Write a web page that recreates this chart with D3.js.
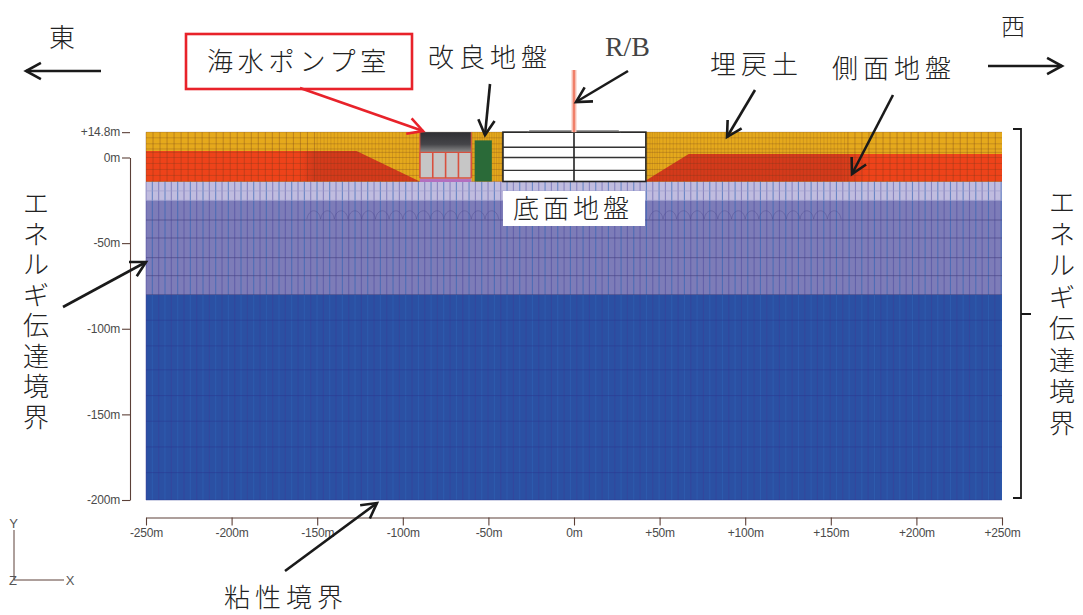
<!DOCTYPE html>
<html><head><meta charset="utf-8">
<style>html,body{margin:0;background:#fff}svg{display:block}</style>
<script src="https://cdn.jsdelivr.net/npm/d3@7/dist/d3.min.js"></script></head><body>
<svg id="c" width="1083" height="615"></svg>
<script>
const xTicks=[-250,-200,-150,-100,-50,0,50,100,150,200,250];
const xTickLabels=["-250m","-200m","-150m","-100m","-50m","0m","+50m","+100m","+150m","+200m","+250m"];
const yTicks=[14.8,0,-50,-100,-150,-200];
const yTickLabels=["+14.8m","0m","-50m","-100m","-150m","-200m"];
const layerNames=["backfill","side","upper","middle","lower"];
const layerTop=[14.8,3,-14,-25,-80];
const layerBottom=[3,-14,-25,-80,-200];
const layerColors=["#e5a91c","#ee431a","#c0bcdf","#7d7cb8","#2b50a3"];
const slopeLeft=[[-250,3.8],[-127,3.8],[-90,-14],[-250,-14]];
const slopeRight=[[250,2],[67,2],[41,-14],[250,-14]];
const rbX=[-41.5,0,42];
const rbY=[14.8,6,0,-7.5,-14];
const pumpColumns=[-90,-82.5,-75,-67.5,-60];
const upperMeshZones=[[-250,-150,4.1],[-150,-90,2],[-90,50,1.4],[50,160,2],[160,250.1,4.1]];
const lowerMeshZones=[[-250,250.1,3.7]];
const upperRows=[14.8,11.5,8,5,3,0,-3.5,-7,-10.5,-14];
const lowerRows=[-19.5,-25,-36.5,-47,-58.5,-69,-80,-95,-110,-124,-139,-154,-169,-184,-200];
const hoops=[-152,-144,-136,-128,-120,-112,-104,-96,-88,-80,-72,-64,-56,-48,48,56,64,72,80,88,96,104,112,120,128,136,144,152];

const x=d3.scaleLinear().domain([-250,250]).range([146,1002]);
const y=d3.scaleLinear().domain([0,-200]).range([157.5,500]);
const svg=d3.select("#c");
const serif="'Liberation Serif','Noto Sans CJK JP',serif";
const sans="'Liberation Sans',Arial,sans-serif";
const defs=svg.append("defs");
const g=svg.append("g");
const ln=d3.line().x(d=>x(d[0])).y(d=>y(d[1]));
layerNames.forEach((n,i)=>g.append("rect").attr("x",x(-250)).attr("width",x(250)-x(-250))
  .attr("y",y(layerTop[i])).attr("height",y(layerBottom[i])-y(layerTop[i])).attr("fill",layerColors[i]));
g.append("rect").attr("x",x(-250)).attr("width",x(250)-x(-250)).attr("y",y(14.8)).attr("height",y(-14)-y(14.8)).attr("fill",layerColors[0]);
const sideGrad=defs.append("linearGradient").attr("id","sideL");
sideGrad.append("stop").attr("offset",0.56).attr("stop-color",layerColors[1]);
sideGrad.append("stop").attr("offset",0.61).attr("stop-color","#d43a1b");
const sideGradR=defs.append("linearGradient").attr("id","sideR").attr("x1",1).attr("x2",0);
sideGradR.append("stop").attr("offset",0.38).attr("stop-color",layerColors[1]);
sideGradR.append("stop").attr("offset",0.45).attr("stop-color","#d43a1b");
g.append("path").attr("d",ln(slopeLeft)+"Z").attr("fill","url(#sideL)");
g.append("path").attr("d",ln(slopeRight)+"Z").attr("fill","url(#sideR)");
const mesh=svg.append("g").attr("fill","none");
upperMeshZones.forEach(z=>d3.range(z[0],z[1],z[2]).forEach(v=>{
  mesh.append("line").attr("x1",x(v)).attr("x2",x(v)).attr("y1",y(14.8)).attr("y2",y(-14))
   .attr("stroke","#6b3a1e").attr("stroke-opacity",z[2]<3?0.22:0.42).attr("stroke-width",0.8);
}));
lowerMeshZones.forEach(z=>d3.range(z[0],z[1],z[2]).forEach((v,i)=>{
  mesh.append("line").attr("x1",x(v)).attr("x2",x(v)).attr("y1",y(-14)).attr("y2",y(-200))
   .attr("stroke",i%2?"#2f62b4":"#3f3c96").attr("stroke-opacity",i%2?0.6:0.42).attr("stroke-width",1.1);
}));
upperRows.forEach(v=>mesh.append("line").attr("x1",x(-250)).attr("x2",x(250)).attr("y1",y(v)).attr("y2",y(v))
  .attr("stroke","#6b3a1e").attr("stroke-opacity",0.32).attr("stroke-width",0.8));
lowerRows.forEach(v=>mesh.append("line").attr("x1",x(-250)).attr("x2",x(250)).attr("y1",y(v)).attr("y2",y(v))
  .attr("stroke",v<-80?"#2a3590":(v<-25?"#45407f":"#9d9ccf")).attr("stroke-opacity",v<-80?0.45:0.6).attr("stroke-width",1));
hoops.forEach(h=>{
  mesh.append("path").attr("d",`M${x(h-4)},${y(-36)}C${x(h-3)},${y(-29.5)} ${x(h+3)},${y(-29.5)} ${x(h+4)},${y(-36)}`)
   .attr("stroke","#4d4a8f").attr("stroke-opacity",.5).attr("stroke-width",.8);
});
const s=svg.append("g");
s.append("rect").attr("x",x(-90)).attr("y",y(14.8)).attr("width",x(-60)-x(-90)).attr("height",y(-14)-y(14.8)).attr("fill","#c6c6c6");
const grad=defs.append("linearGradient").attr("id","pg").attr("x1",0).attr("x2",0).attr("y1",0).attr("y2",1);
grad.append("stop").attr("offset",0).attr("stop-color","#2f2f33");
grad.append("stop").attr("offset",.6).attr("stop-color","#454549");
grad.append("stop").attr("offset",1).attr("stop-color","#8e8e8e");
s.append("rect").attr("x",x(-90)).attr("y",y(14.8)).attr("width",x(-60)-x(-90)).attr("height",y(3)-y(14.8)).attr("fill","url(#pg)");
pumpColumns.forEach(v=>s.append("line").attr("x1",x(v)).attr("x2",x(v)).attr("y1",y(3)).attr("y2",y(-12)).attr("stroke","#d8503e").attr("stroke-width",1.6));
s.append("line").attr("x1",x(-90)).attr("x2",x(-60)).attr("y1",y(3)).attr("y2",y(3)).attr("stroke","#d8503e").attr("stroke-width",1.4);
s.append("line").attr("x1",x(-90)).attr("x2",x(-60)).attr("y1",y(-12)).attr("y2",y(-12)).attr("stroke","#d8503e").attr("stroke-width",1.6);
s.append("rect").attr("x",x(-90)).attr("y",y(-12.6)).attr("width",x(-60)-x(-90)).attr("height",y(-14.3)-y(-12.6)).attr("fill","#b36fc0");
s.append("path").attr("d",ln([[-90,14.8],[-90,3]])).attr("stroke","#d8503e").attr("stroke-width",1).attr("fill","none");
s.append("path").attr("d",ln([[-60,14.8],[-60,3]])).attr("stroke","#d8503e").attr("stroke-width",1).attr("fill","none");
s.append("rect").attr("x",x(-58)).attr("y",y(10)).attr("width",x(-48)-x(-58)).attr("height",y(-14)-y(10)).attr("fill","#2a6a38");
const rb=svg.append("g");
rb.append("rect").attr("x",x(rbX[0])).attr("y",y(rbY[0])).attr("width",x(rbX[2])-x(rbX[0])).attr("height",y(rbY[4])-y(rbY[0])).attr("fill","#fff").attr("stroke","#222").attr("stroke-width",1.6);
rbY.slice(1,4).forEach(v=>rb.append("line").attr("x1",x(rbX[0])).attr("x2",x(rbX[2])).attr("y1",y(v)).attr("y2",y(v)).attr("stroke","#333").attr("stroke-width",1.4));
rb.append("line").attr("x1",x(0)).attr("x2",x(0)).attr("y1",y(14.8)).attr("y2",y(-14)).attr("stroke","#222").attr("stroke-width",1.6);
rb.append("path").attr("d",ln([[-27,14.8],[-26,15.6],[26,15.6],[27,14.8]])).attr("fill","none").attr("stroke","#777").attr("stroke-width",1);
svg.append("line").attr("x1",x(0)).attr("x2",x(0)).attr("y1",70).attr("y2",y(14.8)).attr("stroke","#f7c4b8").attr("stroke-width",5);
svg.append("line").attr("x1",x(0)).attr("x2",x(0)).attr("y1",70).attr("y2",y(14.8)).attr("stroke","#f0806a").attr("stroke-width",2.2);
function styleAxis(a){a.selectAll("path,line").attr("stroke","#5c4038").attr("stroke-width",1.1);
  a.selectAll("text").attr("font-family",sans).attr("font-size",12).attr("fill","#4a4a4a");}
const yAxis=svg.append("g").attr("transform","translate(130,0)")
 .call(d3.axisLeft(y).tickValues(yTicks).tickFormat((d,i)=>yTickLabels[i]).tickSize(8).tickSizeOuter(0)).call(styleAxis);
yAxis.selectAll("text").attr("x",-10).attr("letter-spacing",-.2);
const xAxis=svg.append("g").attr("transform","translate(0,517.5)")
 .call(d3.axisBottom(x).tickValues(xTicks).tickFormat((d,i)=>xTickLabels[i]).tickSize(8).tickSizeOuter(0)).call(styleAxis);
xAxis.selectAll("text").attr("y",11).attr("letter-spacing",-.2);
const tri=svg.append("g").attr("stroke","#5c4038").attr("fill","none");
tri.append("line").attr("x1",14).attr("x2",14).attr("y1",530).attr("y2",580);
tri.append("line").attr("x1",14).attr("x2",64).attr("y1",580).attr("y2",580);
[["Y",13.5,528],["Z",13,585],["X",70,585]].forEach(t=>svg.append("text").text(t[0]).attr("x",t[1]).attr("y",t[2]).attr("text-anchor","middle").attr("font-family",sans).attr("font-size",13).attr("fill","#555"));
function label(t,px,py,size,sp){svg.append("text").text(t).attr("x",px).attr("y",py).attr("font-family",serif).attr("font-size",size).attr("letter-spacing",sp||0).attr("fill","#222").attr("font-weight",300);}
label("東",49,47,26);
label("西",1001,35,24);
label("改良地盤",428,67,26,5);
svg.append("text").text("R/B").attr("x",605).attr("y",56).attr("font-family","'Liberation Serif',serif").attr("font-size",27).attr("fill","#444").attr("textLength",45).attr("lengthAdjust","spacingAndGlyphs");
label("埋戻土",710,74,26,5);
label("側面地盤",832,78,26,5);
label("粘性境界",224,607,26,5);
svg.append("rect").attr("x",186).attr("y",34).attr("width",226).attr("height",55).attr("fill","#fff").attr("stroke","#e8222a").attr("stroke-width",2.6);
label("海水ポンプ室",207,71,26,4.8);
svg.append("rect").attr("x",503).attr("y",191).attr("width",142).attr("height",35).attr("fill","#fff");
label("底面地盤",513,218,26,4);
function vert(chars,px,py,step,size){chars.forEach((c,i)=>svg.append("text").text(c).attr("x",px).attr("y",py+i*step).attr("text-anchor","middle").attr("font-family",serif).attr("font-size",size).attr("fill","#222").attr("font-weight",300));}
const bText=["エ","ネ","ル","ギ","伝","達","境","界"];
vert(bText,36,213,30.5,26);
vert(bText,1062,212,31.5,26);
function arrow(x1,y1,x2,y2,col,w,h){
 col=col||"#1a1a1a";w=w||2.6;h=h||17;
 const a=Math.atan2(y2-y1,x2-x1),d=0.5;
 svg.append("path").attr("d",d3.line()([[x1,y1],[x2,y2]])).attr("stroke",col).attr("stroke-width",w).attr("fill","none");
 svg.append("path").attr("d",d3.line()([[x2-h*Math.cos(a-d),y2-h*Math.sin(a-d)],[x2,y2],[x2-h*Math.cos(a+d),y2-h*Math.sin(a+d)]])).attr("stroke",col).attr("stroke-width",w).attr("fill","none");
}
arrow(101,71,26,71);
arrow(988,66,1062,66);
arrow(300,88,423,131,"#e8222a");
arrow(490,84,485,135);
arrow(628,71,576,102);
arrow(755,90,727,137);
arrow(893,95,852,174);
arrow(63,307,146,262);
arrow(285,571,377,503);
svg.append("path").attr("d","M1013,129H1021V314M1031,314H1021M1021,314V498H1013").attr("fill","none").attr("stroke","#1a1a1a").attr("stroke-width",1.8);
</script></body></html>
